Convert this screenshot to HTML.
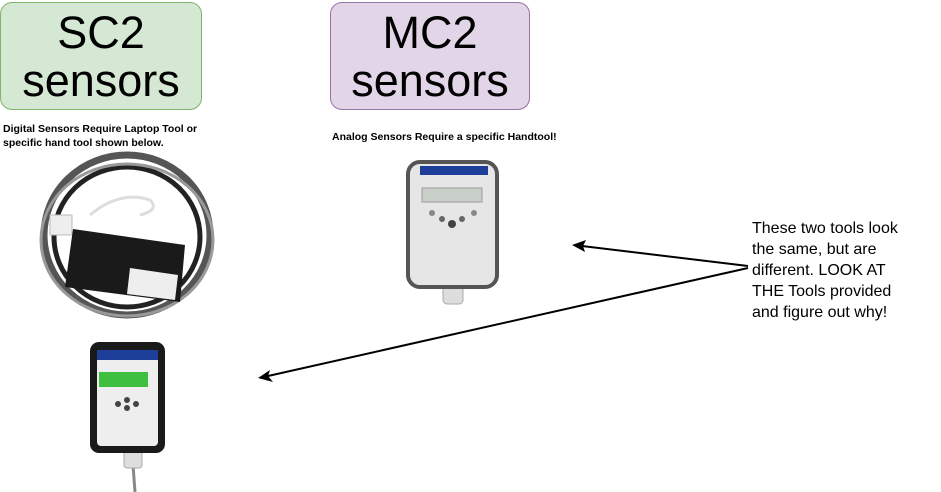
<!DOCTYPE html>
<html><head><meta charset="utf-8"><style>
body{margin:0;width:941px;height:492px;background:#fff;position:relative;overflow:hidden;font-family:"Liberation Sans",sans-serif}
.box{position:absolute;border-radius:12px;text-align:center;font-size:45px;line-height:48px;color:#000;box-sizing:border-box;padding-top:6px}
.t{position:absolute;font-size:10.5px;font-weight:bold;line-height:14px;color:#000}
</style></head><body>
<div class="box" style="left:0;top:2px;width:202px;height:108px;background:#d5e8d4;border:1px solid #82b366">SC2<br>sensors</div>
<div class="box" style="left:330px;top:2px;width:200px;height:108px;background:#e1d5e7;border:1px solid #9673a6">MC2<br>sensors</div>
<div class="t" style="left:3px;top:122px">Digital Sensors Require Laptop Tool or<br>specific hand tool shown below.</div>
<div class="t" style="left:332px;top:130px">Analog Sensors Require a specific Handtool!</div>
<div style="position:absolute;left:752px;top:218px;font-size:16px;line-height:21px;white-space:nowrap">These two tools look<br>the same, but are<br>different. LOOK AT<br>THE Tools provided<br>and figure out why!</div>
<svg width="941" height="492" style="position:absolute;left:0;top:0">
<g>
<ellipse cx="127" cy="235" rx="83" ry="80" fill="none" stroke="#555" stroke-width="7"/>
<ellipse cx="127" cy="237" rx="73" ry="70" fill="none" stroke="#222" stroke-width="5"/>
<ellipse cx="127" cy="240" rx="86" ry="76" fill="none" stroke="#999" stroke-width="3"/>
<path d="M90 215 Q120 190 150 200 Q160 210 140 215" fill="none" stroke="#ddd" stroke-width="3"/>
<rect x="50" y="215" width="22" height="20" fill="#eee" stroke="#bbb"/>
<polygon points="73,229 185,245 180,302 65,287" fill="#1a1a1a"/>
<polygon points="130,268 178,275 175,300 127,294" fill="#eee"/>
</g>
<g>
<rect x="443" y="278" width="20" height="26" rx="4" fill="#ddd" stroke="#aaa"/>
<rect x="408" y="162" width="89" height="125" rx="12" fill="#e6e6e6" stroke="#555" stroke-width="4"/>
<rect x="420" y="166" width="68" height="9" fill="#1d3f9a"/>
<rect x="422" y="188" width="60" height="14" fill="#c9cfc9" stroke="#999"/>
<circle cx="452" cy="224" r="4" fill="#444"/>
<circle cx="442" cy="219" r="3" fill="#666"/><circle cx="462" cy="219" r="3" fill="#666"/>
<circle cx="432" cy="213" r="3" fill="#888"/><circle cx="474" cy="213" r="3" fill="#888"/>
</g>
<g>
<line x1="133" y1="465" x2="135" y2="492" stroke="#888" stroke-width="3"/>
<rect x="124" y="448" width="18" height="20" rx="3" fill="#ddd" stroke="#aaa"/>
<rect x="90" y="342" width="75" height="111" rx="9" fill="#1a1a1a"/>
<rect x="97" y="350" width="61" height="96" rx="4" fill="#eee"/>
<rect x="97" y="350" width="61" height="10" fill="#1d3f9a"/>
<rect x="99" y="372" width="49" height="15" fill="#3fbf3f"/>
<circle cx="127" cy="400" r="3" fill="#444"/><circle cx="118" cy="404" r="3" fill="#444"/><circle cx="136" cy="404" r="3" fill="#444"/><circle cx="127" cy="408" r="3" fill="#444"/>
</g>
<g>
<line x1="748" y1="266" x2="582" y2="246" stroke="#000" stroke-width="2"/>
<polygon points="572,245 586,240 583,246 585,252" fill="#000"/>
</g>
<g>
<line x1="748" y1="268" x2="268" y2="376" stroke="#000" stroke-width="2"/>
<polygon points="258,378 270,370 268,376 273,382" fill="#000"/>
</g>
</svg>
</body></html>
